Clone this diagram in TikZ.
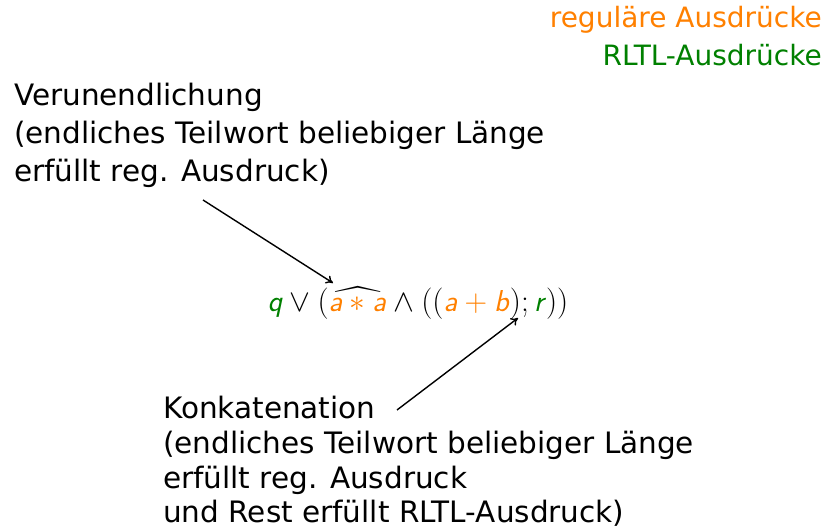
\documentclass[tikz,border=0pt]{standalone}
\usepackage{amsmath}
\usepackage{fontspec}
\usetikzlibrary{arrows.meta}
\setmainfont{DejaVu Sans}
\definecolor{regorange}{RGB}{255,128,0}
\definecolor{rltlgreen}{RGB}{0,128,0}
\newcommand{\fv}[1]{\textsf{\textit{#1}}}
\begin{document}
\begin{tikzpicture}[x=1pt,y=1pt,
  hand/.style={inner sep=0pt, font=\fontsize{29.5}{34}\selectfont},
  handl/.style={hand, anchor=base west},
  handr/.style={hand, anchor=base east, font=\fontsize{28}{32}\selectfont},
  pointer/.style={-{To[length=7pt,width=9pt]}, line width=1.4pt}]
\useasboundingbox (0,0) rectangle (825,-529);

% legend
\node[handr, text=regorange] (legreg) at (822,-28) {reguläre Ausdrücke};
\node[handr, text=rltlgreen] (legrltl) at (822,-66) {RLTL-Ausdrücke};

% upper annotation
\node[handl] (ver1) at (14,-106) {Verunendlichung};
\node[handl] (ver2) at (14,-144) {(endliches Teilwort beliebiger Länge};
\node[handl] (ver3) at (14,-182) {erfüllt reg. Ausdruck)};

% formula
\node[inner sep=0pt, anchor=base, scale=1.26, font=\fontsize{24}{28}\selectfont] (formula) at (418,-312)
  {$\color{rltlgreen}\fv{q}\color{black}\vee(\widehat{\color{regorange}\fv{a}*\fv{a}}\wedge((\color{regorange}\fv{a}+\fv{b}\color{black});\color{rltlgreen}\fv{r}\color{black}))$};

% lower annotation
\node[handl] (kon1) at (163,-418) {Konkatenation};
\node[handl] (kon2) at (163,-453) {(endliches Teilwort beliebiger Länge};
\node[handl] (kon3) at (163,-488) {erfüllt reg. Ausdruck};
\node[handl] (kon4) at (163,-522) {und Rest erfüllt RLTL-Ausdruck)};

% pointers
\coordinate (p1s) at (203,-200);
\coordinate (p1e) at (333,-283);
\coordinate (p2s) at (397,-410);
\coordinate (p2e) at (518,-318);
\draw[pointer] (p1s) -- (p1e);
\draw[pointer] (p2s) -- (p2e);
\end{tikzpicture}
\end{document}
